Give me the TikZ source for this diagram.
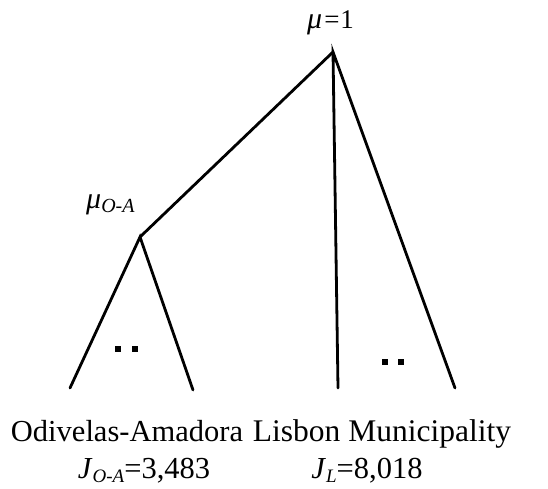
\documentclass[tikz,border=0pt]{standalone}
\usepackage{fontspec}
\setmainfont{Liberation Serif}
\begin{document}
\begin{tikzpicture}[x=1pt,y=-1pt,
  branch/.style={line width=2.8pt,line cap=round},
  dot/.style={fill=black,minimum size=5.5pt,inner sep=0pt,rectangle},
  big/.style={font=\fontsize{30.5}{36}\selectfont,inner sep=0pt},
  mulabel/.style={font=\fontsize{30}{34}\selectfont,inner sep=0pt}]
\useasboundingbox (0,0) rectangle (548,488);
\coordinate (top) at (333,52);
\coordinate (oa) at (140,237);
\coordinate (l1) at (70,388);
\coordinate (l2) at (193,390);
\coordinate (l3) at (338,388);
\coordinate (l4) at (455,388);
\draw[branch] (l3) -- (top) -- (l4);
\draw[branch] (top) -- (oa);
\draw[branch] (l1) -- (oa) -- (l2);
\node[dot] (d1) at (118,349) {};
\node[dot] (d2) at (135,349) {};
\node[dot] (d3) at (385,362) {};
\node[dot] (d4) at (401,362) {};
\node[mulabel,anchor=base west] (mu) at (307,28) {\textit{μ}{\fontsize{27}{30}\selectfont\hspace{2pt}=\hspace{1pt}1}};
\node[mulabel,anchor=base west] (muoa) at (86,208) {\textit{μ}\raisebox{-4pt}{\fontsize{20}{24}\selectfont\textit{O-A}}};
\node[big,anchor=base] (oaname) at (127,441) {Odivelas-Amadora};
\node[big,anchor=base,font=\fontsize{31.5}{36}\selectfont] (lisname) at (382,441) {Lisbon Municipality};
\node[big,anchor=base] (joa) at (144,478) {\textit{J}\raisebox{-4pt}{\fontsize{19}{22}\selectfont\textit{O-A}}=3,483};
\node[big,anchor=base] (jl) at (367,478) {\textit{J}\raisebox{-4pt}{\fontsize{19}{22}\selectfont\textit{L}}=8,018};
\end{tikzpicture}
\end{document}
